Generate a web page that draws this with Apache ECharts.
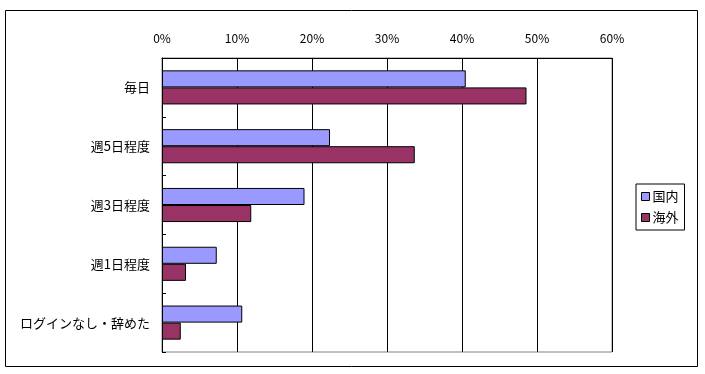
<!DOCTYPE html>
<html><head><meta charset="utf-8">
<script src="https://cdn.jsdelivr.net/npm/echarts@6/dist/echarts.min.js"></script>
<style>html,body{margin:0;padding:0;background:#fff}#c{width:705px;height:374px}</style>
</head><body><div id="c"></div>
<script>
const categories = ['毎日', '週5日程度', '週3日程度', '週1日程度', 'ログインなし・辞めた'];
const domestic = [40.5, 22.4, 19.0, 7.3, 10.7];
const overseas = [48.6, 33.7, 11.9, 3.2, 2.5];
const seriesNames = ['国内', '海外'];
const font = '"Noto Sans CJK JP", sans-serif';

const chart = echarts.init(document.getElementById('c'), null, {renderer: 'canvas'});
chart.setOption({
  animation: false,
  backgroundColor: '#fff',
  textStyle: {fontFamily: font},
  graphic: [{
    type: 'rect', shape: {x: 5.5, y: 10.5, width: 692, height: 356},
    style: {fill: 'none', stroke: '#000', lineWidth: 1}, z: 0
  }],
  grid: {left: 162, right: 93, top: 58, bottom: 22, show: true, borderColor: '#808080', borderWidth: 1, backgroundColor: 'transparent'},
  legend: {
    orient: 'vertical', left: 636, top: 184, width: 52, height: 40,
    data: seriesNames,
    icon: 'rect', itemWidth: 8, itemHeight: 8, itemGap: 8,
    borderColor: '#000', borderWidth: 1, padding: [6, 6, 6, 5],
    itemStyle: {borderColor: '#000', borderWidth: 1},
    textStyle: {fontSize: 13, color: '#000', fontFamily: font, padding: [0, 0, 0, -2]}
  },
  xAxis: {
    type: 'value', position: 'top', min: 0, max: 60, interval: 10,
    axisLine: {show: true, lineStyle: {color: '#000'}},
    axisTick: {show: false},
    axisLabel: {formatter: '{value}%', color: '#000', fontSize: 12, margin: 14, fontFamily: font},
    splitLine: {show: true, lineStyle: {color: '#000', width: 1}}
  },
  yAxis: {
    type: 'category', inverse: true, data: categories,
    axisLine: {show: true, lineStyle: {color: '#000'}},
    axisTick: {show: true, inside: true, length: 4, lineStyle: {color: '#000'}},
    axisLabel: {color: '#000', fontSize: 13, margin: 12, fontFamily: font}
  },
  series: [
    {name: seriesNames[0], type: 'bar', data: domestic, barGap: '0%', barCategoryGap: '42%',
     itemStyle: {color: '#9999FF', borderColor: '#000', borderWidth: 1}},
    {name: seriesNames[1], type: 'bar', data: overseas, barGap: '0%', barCategoryGap: '42%',
     itemStyle: {color: '#993366', borderColor: '#000', borderWidth: 1}}
  ]
});
</script></body></html>
